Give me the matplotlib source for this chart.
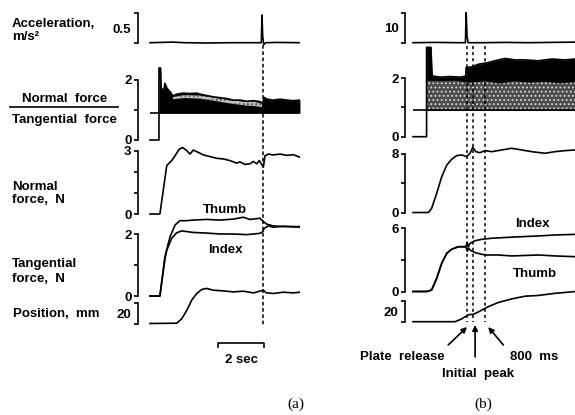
import matplotlib

matplotlib.use("Agg")
import matplotlib.pyplot as plt  # noqa: E402
from matplotlib.lines import Line2D  # noqa: E402

W, H = 575, 415
PX_PER_S = 23.0  # horizontal scale of both panels (2 s bar = 46 px)

plt.rcParams["font.family"] = ["Liberation Sans", "DejaVu Sans"]
plt.rcParams["font.weight"] = "bold"
plt.rcParams["font.size"] = 9.5
plt.rcParams["hatch.linewidth"] = 0.8

# ---------------- panel (a): time in s from trace start ----------------
acc_a_t = [0, 1.0, 1.5, 2.5, 3.5, 4.5, 4.84, 4.87, 4.90, 4.95, 5.05, 5.5, 6.52]
acc_a = [0, 0.01, 0, -0.005, 0, 0, 0, 0.47, 0.10, -0.03, 0, 0.005, 0]

ratio_ref = 0.9
ratio_a_t = [0, 0.39, 0.39, 0.46, 0.48, 0.61, 0.65, 0.74, 0.87, 1.0, 1.17, 1.43,
             1.74, 2.04, 2.17, 2.48, 2.74, 3.04, 3.35, 3.61, 3.91, 4.22, 4.48,
             4.78, 4.90, 4.96, 5.09, 5.35, 5.65, 5.96, 6.22, 6.52]
ratio_a = [0, 0, 2.4, 2.4, 1.69, 1.70, 1.89, 1.72, 1.61, 1.47, 1.53, 1.56,
           1.55, 1.56, 1.53, 1.48, 1.44, 1.41, 1.38, 1.33, 1.33, 1.29, 1.31,
           1.28, 1.22, 1.42, 1.36, 1.33, 1.36, 1.33, 1.31, 1.33]
band_a_t = [1.0, 1.52, 2.17, 2.83, 3.48, 4.13, 4.57, 4.87]
band_a_hi = [1.43, 1.50, 1.48, 1.40, 1.33, 1.27, 1.27, 1.20]
band_a_lo = [1.36, 1.40, 1.38, 1.30, 1.22, 1.15, 1.13, 1.10]

normal_a_t = [0, 0.43, 0.73, 0.94, 1.09, 1.27, 1.42, 1.60, 1.74, 1.88, 2.10,
              2.32, 2.61, 2.90, 3.19, 3.48, 3.77, 3.91, 4.13, 4.35, 4.49, 4.64,
              4.75, 4.93, 5.00, 5.14, 5.36, 5.65, 5.94, 6.23, 6.52]
normal_a = [0, 0, 2.30, 2.53, 2.76, 3.07, 3.15, 3.00, 2.84, 3.03, 2.92,
            2.80, 2.72, 2.64, 2.61, 2.53, 2.41, 2.47, 2.35, 2.38, 2.49, 2.38,
            2.53, 2.23, 2.76, 2.84, 2.80, 2.84, 2.78, 2.81, 2.69]

thumb_a_t = [0, 0.43, 0.65, 0.87, 1.09, 1.30, 1.60, 1.88, 2.47, 3.04, 3.62,
             4.06, 4.35, 4.78, 4.93, 5.07, 5.36, 5.80, 6.52]
thumb_a = [0, 0, 1.27, 1.91, 2.29, 2.43, 2.43, 2.45, 2.47, 2.45, 2.48,
           2.54, 2.47, 2.51, 2.40, 2.32, 2.26, 2.24, 2.24]
index_a_t = [0, 0.43, 0.65, 0.73, 0.94, 1.16, 1.38, 1.88, 2.47, 3.04, 3.62,
             4.20, 4.78, 4.90, 4.96, 5.14, 5.36, 5.80, 6.52]
index_a = [0, 0, 1.20, 1.48, 1.86, 2.04, 2.10, 2.05, 2.03, 2.00, 2.00,
           1.98, 2.02, 2.07, 2.18, 2.26, 2.22, 2.25, 2.22]

pos_a_t = [0, 1.16, 1.38, 1.60, 1.81, 2.03, 2.25, 2.47, 2.75, 3.18, 3.62,
           4.06, 4.50, 4.93, 5.04, 5.36, 5.80, 6.23, 6.52]
pos_a = [0, 0.3, 4.7, 13, 23, 29.7, 33.7, 34.7, 33, 32.3, 31.3,
         32, 30.3, 33, 30.5, 29.7, 31, 30.3, 31]

release_a = 4.91  # dashed line

# ---------------- panel (b) ----------------
acc_b_t = [0, 1.0, 2.0, 2.28, 2.31, 2.35, 2.40, 3.0, 4.0, 5.0, 6.0, 7.04]
acc_b = [0, 0.1, 0, 0, 10, 2, 0, 0, 0.1, 0, 0.1, 0.2]

ratio_b_t = [0, 0.59, 0.59, 0.78, 0.83, 1.17, 1.61, 2.04, 2.29, 2.31, 2.55,
             2.84, 3.27, 3.71, 4.00, 4.43, 4.87, 5.45, 6.03, 6.61, 7.04]
ratio_b = [0, 0, 3.06, 3.06, 2.08, 2.04, 2.06, 2.04, 2.07, 2.37, 2.39,
           2.48, 2.54, 2.63, 2.68, 2.63, 2.63, 2.60, 2.66, 2.63, 2.66]
gray_b_t = [0.59, 1.17, 1.83, 2.48, 3.13, 3.78, 4.43, 5.09, 5.74, 6.39, 7.04]
gray_b = [1.92, 1.90, 1.92, 1.85, 1.90, 1.82, 1.90, 1.85, 1.88, 1.83, 1.87]

normal_b_t = [0, 0.67, 0.81, 1.03, 1.25, 1.47, 1.68, 1.90, 2.12, 2.33, 2.48,
              2.60, 2.73, 2.91, 3.13, 3.42, 3.86, 4.29, 4.73, 5.16, 5.74,
              6.17, 6.61, 7.04]
normal_b = [0, 0, 0.57, 2.63, 4.90, 6.50, 7.28, 7.78, 7.87, 7.64, 8.10,
            8.92, 8.32, 8.18, 8.46, 8.32, 8.55, 8.78, 8.55, 8.32, 8.10,
            8.32, 8.46, 8.55]

index_b_t = [0, 0.60, 0.81, 1.03, 1.25, 1.47, 1.68, 1.97, 2.26, 2.30, 2.36,
             2.40, 2.48, 2.70, 2.99, 3.42, 4.00, 4.73, 5.45, 6.17, 7.04]
index_b = [0, 0, 0.14, 1.25, 2.67, 3.61, 3.99, 4.23, 4.23, 4.30, 4.60,
           4.20, 4.55, 4.80, 4.93, 5.03, 5.10, 5.18, 5.25, 5.34, 5.40]
thumb_b_t = [0, 0.60, 0.81, 1.03, 1.25, 1.47, 1.68, 1.97, 2.26, 2.30, 2.36,
             2.42, 2.48, 2.70, 3.13, 3.70, 4.29, 5.45, 6.17, 7.04]
thumb_b = [0, 0, 0.14, 1.25, 2.67, 3.61, 3.99, 4.23, 4.23, 4.20, 3.80,
           4.10, 3.92, 3.67, 3.45, 3.45, 3.36, 3.45, 3.36, 3.29]

pos_b_t = [0, 1.83, 2.12, 2.41, 2.62, 2.84, 3.27, 3.71, 4.29, 4.87, 5.45,
           6.17, 7.04]
pos_b = [0, 0, 2.7, 6.7, 7.0, 9.3, 14.3, 18.3, 21.7, 24.3, 25, 27, 28.7]

events_b = [2.33, 2.62, 3.13]  # plate release, initial peak, 800 ms

fig = plt.figure(figsize=(W / 100, H / 100), dpi=100)
fig.patch.set_facecolor("white")


def row(x_spine, x_start, x_end, top, y0, y1, lo, hi):
    """Axes whose value 0 sits at pixel row y0 and value `top` at y1."""
    k = (y0 - y1) / top
    y_lo = y0 - lo * k
    y_hi = y0 - hi * k
    ax = fig.add_axes([x_spine / W, 1 - y_lo / H,
                       (x_end - x_spine) / W, (y_lo - y_hi) / H])
    ax.set_xlim((x_spine - x_start) / PX_PER_S, (x_end - x_start) / PX_PER_S)
    ax.set_ylim(lo, hi)
    ax.patch.set_visible(False)
    for s in ("top", "right", "bottom"):
        ax.spines[s].set_visible(False)
    ax.spines["left"].set_bounds(0, top)
    ax.spines["left"].set_linewidth(1.2)
    ax.set_xticks([])
    ax.tick_params(axis="y", direction="out", length=3.2, width=1.2, pad=1.5)
    return ax


def ticks(ax, vals, labels, hide=()):
    ax.set_yticks(vals, labels)
    for i in hide:
        ax.yaxis.get_major_ticks()[i].tick1line.set_visible(False)


def overlay(x_spine, x_start, x_end):
    ax = fig.add_axes([x_spine / W, 0, (x_end - x_spine) / W, 1])
    ax.set_xlim((x_spine - x_start) / PX_PER_S, (x_end - x_start) / PX_PER_S)
    ax.set_ylim(H, 0)
    ax.axis("off")
    return ax


LW = 1.2

# ---- (a) ----
xa = (138, 150, 300)
ax = row(*xa, 0.5, 42.7, 13.3, -0.05, 0.5)
ax.plot(acc_a_t, acc_a, color="k", lw=LW)
ticks(ax, [0, 0.25, 0.5], ["", "0.5", ""], hide=[1])

ax = row(*xa, 2, 140, 80, -0.1, 2.6)
ax.fill_between(ratio_a_t, ratio_ref, ratio_a,
                where=[v >= ratio_ref for v in ratio_a], color="k", lw=0)
ax.fill_between(band_a_t, band_a_lo, band_a_hi, facecolor="0.75",
                edgecolor="0.3", hatch="....", lw=0)
ax.hlines(ratio_ref, 0, 6.52, color="k", lw=LW)
ax.plot(ratio_a_t, ratio_a, color="k", lw=LW)
ticks(ax, [0, 1, 2], ["0", "", "2"])

ax = row(*xa, 3, 214, 150.7, -0.1, 3.3)
ax.plot(normal_a_t, normal_a, color="k", lw=LW)
ticks(ax, [0, 1, 2, 3], ["0", "", "", "3"])

ax = row(*xa, 2, 296, 234, -0.1, 2.7)
ax.plot(thumb_a_t, thumb_a, color="k", lw=LW)
ax.plot(index_a_t, index_a, color="k", lw=LW)
ticks(ax, [0, 1, 2], ["0", "", "2"])

ax = row(*xa, 20, 323.5, 303.3, -1, 36)
ax.plot(pos_a_t, pos_a, color="k", lw=LW)
ticks(ax, [0, 10, 20], ["", "20", ""], hide=[1])

ov = overlay(*xa)
ov.vlines(release_a, 45, 327, color="k", lw=1.1, linestyles=(0, (2.4, 1.7)))
bar0 = 2.96
ov.plot([bar0, bar0, bar0 + 2, bar0 + 2], [346.5, 342.7, 342.7, 346.5],
        color="k", lw=1.2, clip_on=False)
ov.text(bar0 + 1, 362.7, "2 sec", ha="center", va="baseline")

# ---- (b) ----
xb = (405, 413, 575)
ax = row(*xb, 10, 42.7, 12.7, -1, 10.5)
ax.plot(acc_b_t, acc_b, color="k", lw=LW)
ticks(ax, [0, 5, 10], ["", "10", ""], hide=[1])

ax = row(*xb, 2, 136.7, 78.3, -0.1, 3.2)
ax.fill_between(ratio_b_t, ratio_ref, ratio_b,
                where=[v >= ratio_ref for v in ratio_b], color="k", lw=0)
ax.fill_between(gray_b_t, ratio_ref, gray_b, facecolor="0.3",
                edgecolor="0.85", hatch="....", lw=0)
ax.hlines(ratio_ref, 0, 7.04, color="k", lw=LW)
ax.plot(ratio_b_t, ratio_b, color="k", lw=LW)
ticks(ax, [0, 1, 2], ["0", "", "2"])

ax = row(*xb, 8, 212.5, 154, -0.4, 9.3)
ax.plot(normal_b_t, normal_b, color="k", lw=LW)
ticks(ax, [0, 4, 8], ["0", "", "8"])

ax = row(*xb, 6, 291.5, 228, -0.3, 6.3)
ax.plot(index_b_t, index_b, color="k", lw=LW)
ax.plot(thumb_b_t, thumb_b, color="k", lw=LW)
ticks(ax, [0, 3, 6], ["0", "", "6"])

ax = row(*xb, 20, 321.7, 300.7, -1, 32)
ax.plot(pos_b_t, pos_b, color="k", lw=LW)
ticks(ax, [0, 10, 20], ["", "20", ""], hide=[1])

ov = overlay(*xb)
ov.vlines(events_b, 46, 322, color="k", lw=1.1, linestyles=(0, (2.0, 2.0)))
arrow = dict(arrowstyle="-|>", color="k", lw=1.2, mutation_scale=8,
             shrinkA=0, shrinkB=0)
ov.annotate("", xy=(events_b[0] + 0.02, 327), xytext=(1.53, 345),
            arrowprops=arrow)
ov.annotate("", xy=(events_b[1] + 0.08, 325), xytext=(events_b[1] + 0.08, 357),
            arrowprops=arrow)
ov.annotate("", xy=(events_b[2] + 0.14, 327), xytext=(3.93, 345),
            arrowprops=arrow)
ov.text(-0.48, 360, "Plate  release", ha="center", va="baseline")
ov.text(2.83, 377.3, "Initial  peak", ha="center", va="baseline")
ov.text(5.26, 360, "800  ms", ha="center", va="baseline")


# ---- figure-level labels (pixel positions) ----
def ftext(x, y, s, **kw):
    fig.text(x / W, 1 - y / H, s, va="baseline", **kw)


ftext(11.7, 27.3, "Acceleration,")
ftext(11.7, 40.5, "m/s²")
ftext(64.5, 101.7, "Normal  force", ha="center")
ftext(64, 122.5, "Tangential  force", ha="center")
fig.add_artist(Line2D([10 / W, 118 / W], [1 - 107.3 / H, 1 - 107.3 / H],
                      color="k", lw=1.2))
ftext(11.7, 190, "Normal")
ftext(11.7, 203, "force,  N")
ftext(11.7, 267.3, "Tangential")
ftext(11.7, 281.7, "force,  N")
ftext(13, 317.3, "Position,  mm")

ftext(225, 213.3, "Thumb", ha="center")
ftext(225, 253.3, "Index", ha="center")
ftext(532, 226.7, "Index", ha="center")
ftext(535, 276.7, "Thumb", ha="center")

ftext(296, 407.7, "(a)", ha="center", family="Liberation Serif",
      weight="normal", size=11)
ftext(483, 407.7, "(b)", ha="center", family="Liberation Serif",
      weight="normal", size=11)

fig.savefig("out.png", dpi=100, facecolor="white")
